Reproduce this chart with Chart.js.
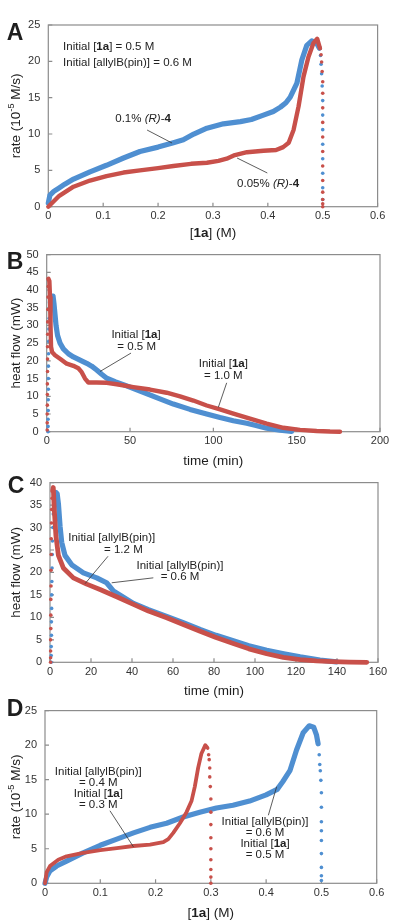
<!DOCTYPE html>
<html>
<head>
<meta charset="utf-8">
<script src="https://cdn.jsdelivr.net/npm/chart.js@4.4.1/dist/chart.umd.min.js"></script>
<style>
  body { margin: 0; background: #fff; width: 400px; height: 920px; position: relative; overflow: hidden; }
  canvas { position: absolute; left: 0; display: block; }
</style>
</head>
<body>
<canvas id="chartA" width="400" height="240" style="top:0"></canvas>
<canvas id="chartB" width="400" height="228" style="top:240px"></canvas>
<canvas id="chartC" width="400" height="236" style="top:468px"></canvas>
<canvas id="chartD" width="400" height="224" style="top:696px"></canvas>
<script>
/* ---- data, [x, y] ---- */
// A: rate vs [1a], two catalyst loadings
var aXTicks = [0, 0.1, 0.2, 0.3, 0.4, 0.5, 0.6];
var aYTicks = [0, 5, 10, 15, 20, 25];
var aBlueLine = [[0,0.5],[0.003,1.6],[0.01,2.1],[0.02,2.6],[0.03,3.1],[0.046,3.8],[0.076,4.8],[0.106,5.7],[0.137,6.7],[0.167,7.6],[0.2,8.2],[0.228,8.8],[0.246,9.2],[0.265,10.0],[0.289,10.8],[0.319,11.4],[0.35,11.7],[0.37,12.0],[0.392,12.6],[0.41,13.1],[0.423,13.7],[0.433,14.3],[0.441,15.1],[0.453,17.0],[0.462,20.2],[0.471,22.2],[0.48,22.8],[0.489,22.5],[0.494,21.8]];
var aBlueDots = [[0.496,20.8],[0.497,19.6],[0.498,18.3],[0.499,16.6],[0.5,14.6],[0.5,12.6],[0.5,10.6],[0.5,8.6],[0.5,6.6],[0.5,4.6],[0.5,2.6],[0.5,1.0]];
var aRedLine = [[0,0],[0.02,1.5],[0.046,2.75],[0.076,3.6],[0.106,4.2],[0.137,4.7],[0.167,5.0],[0.2,5.3],[0.228,5.6],[0.26,5.9],[0.289,6.05],[0.31,6.3],[0.325,6.6],[0.34,7.1],[0.362,7.5],[0.392,7.7],[0.415,7.8],[0.428,8.2],[0.438,8.8],[0.447,10.6],[0.456,13.8],[0.465,17.9],[0.474,20.6],[0.483,22.5],[0.49,23.1],[0.495,21.8]];
var aRedDots = [[0.497,20.9],[0.498,19.9],[0.499,18.6],[0.5,17.2],[0.5,15.6],[0.5,13.6],[0.5,11.6],[0.5,9.6],[0.5,7.6],[0.5,5.6],[0.5,3.6],[0.5,2.0],[0.5,1.0],[0.5,0.4],[0.5,0]];

// B: heat flow vs time, [1a] 0.5 / 1.0 M
var bXTicks = [0, 50, 100, 150, 200];
var bYTicks = [0, 5, 10, 15, 20, 25, 30, 35, 40, 45, 50];
var bBlueRise = [[0.8,0],[0.8,1.5],[0.8,3.5],[0.9,6],[0.9,9],[1,12],[1,15],[1,18.5],[1.1,22],[1.2,25.5],[1.3,29],[1.5,32],[1.8,35]];
var bBlueLine = [[2.2,36.5],[3,38.2],[3.8,38.3],[4.4,36],[5,33],[5.6,30],[6.5,27.2],[8,25],[10,23.4],[13,22],[16,21.1],[20,20.2],[24,19.3],[27,18.5],[30,17.4],[33,16.2],[36,15.1],[41,14.1],[46,13.3],[56,11.5],[66,9.6],[76,7.8],[86,6.3],[96,5.0],[104,4.0],[112,3.1],[120,2.4],[125,1.8],[132,1.0],[140,0.4],[147,0.1]];
var bRedRise = [[0.3,0.5],[0.3,2.5],[0.3,5],[0.4,7.5],[0.4,10.5],[0.4,13.5],[0.5,17],[0.5,20.5],[0.5,24],[0.6,27.5],[0.6,31],[0.7,34.5],[0.8,38],[0.9,41]];
var bRedLine = [[1,43.2],[1.6,42.5],[2,38],[2.3,30],[2.6,24],[3.2,22.5],[5,21.6],[8,20.6],[12,19.2],[16,18.6],[19,17.9],[21,16.8],[23,15],[25,13.9],[30,13.9],[36,13.8],[42,13.4],[52,12.6],[62,11.9],[72,11.0],[80,10.0],[88,8.8],[96,7.4],[104,6.3],[112,5.1],[122,3.7],[132,2.3],[142,1.1],[152,0.5],[162,0.2],[170,0.05],[176,0]];

// C: heat flow vs time, allylB(pin) 0.6 / 1.2 M
var cXTicks = [0, 20, 40, 60, 80, 100, 120, 140, 160];
var cYTicks = [0, 5, 10, 15, 20, 25, 30, 35, 40];
var cBlueRise = [[0.6,0],[0.6,1.5],[0.6,3.5],[0.7,6],[0.7,9],[0.8,12],[0.8,15],[0.9,18],[1,21],[1.1,24],[1.2,27],[1.4,30],[1.6,33],[2,35.5]];
var cBlueLine = [[2.4,37.2],[2.9,37.8],[3.5,37.5],[4.1,35.3],[4.9,30.3],[5.7,26.7],[7.3,23.8],[10.6,21.7],[16.3,19.9],[22.8,18.8],[27.6,17.7],[30.9,15.9],[35.8,14.5],[40.7,13.1],[48,11.7],[56.9,10.2],[65,8.8],[73.2,7.3],[81,6],[89.4,4.8],[97,3.7],[105.7,2.7],[114,1.9],[122,1.2],[131.7,0.5],[139.8,0.1]];
var cRedRise = [[0.3,0],[0.3,1],[0.3,2.5],[0.3,5],[0.4,7.5],[0.4,10.5],[0.4,14],[0.5,17],[0.5,20.5],[0.6,24],[0.6,27.5],[0.7,31],[0.8,34],[1,36.5]];
var cRedLine = [[1.3,38.2],[1.6,38.9],[2.1,33.9],[2.9,28.1],[4.1,23.8],[6.5,21],[11.4,18.8],[17.9,17.4],[24.4,16.2],[32.5,14.6],[40.7,12.9],[48,11.4],[56.9,9.9],[65,8.4],[73.2,6.9],[81,5.5],[89.4,4.2],[97,3.0],[105.7,1.9],[113.8,1.1],[122,0.6],[130,0.3],[138,0.15],[146,0.05],[154.5,0]];

// D: rate vs [1a], two starting concentrations
var dXTicks = [0, 0.1, 0.2, 0.3, 0.4, 0.5, 0.6];
var dYTicks = [0, 5, 10, 15, 20, 25];
var dBlueLine = [[0,0],[0.003,0.9],[0.009,1.8],[0.021,2.5],[0.039,3.2],[0.069,4.4],[0.1,5.5],[0.13,6.4],[0.16,7.3],[0.19,8.1],[0.22,8.7],[0.25,9.6],[0.28,10.3],[0.31,10.9],[0.34,11.3],[0.37,11.9],[0.4,12.8],[0.42,13.6],[0.43,14.7],[0.443,16.3],[0.455,19.3],[0.467,21.8],[0.478,22.8],[0.486,22.6],[0.491,21.5],[0.494,20.2]];
var dBlueDots = [[0.496,18.6],[0.497,17.2],[0.498,16.3],[0.499,14.9],[0.5,13.1],[0.5,11.0],[0.5,8.9],[0.5,7.6],[0.5,6.2],[0.5,4.3],[0.5,2.3],[0.5,1.1],[0.5,0.4]];
var dRedLine = [[0,0],[0.003,1.6],[0.009,2.5],[0.024,3.4],[0.039,3.9],[0.069,4.4],[0.1,4.8],[0.13,5.1],[0.16,5.4],[0.19,5.6],[0.214,5.96],[0.223,6.4],[0.232,7.3],[0.244,8.7],[0.256,10.3],[0.265,11.9],[0.271,14.0],[0.277,16.7],[0.283,18.8],[0.29,20.0],[0.294,19.6]];
var dRedDots = [[0.296,18.6],[0.297,17.9],[0.298,16.7],[0.298,15.4],[0.299,14.0],[0.3,12.2],[0.3,10.3],[0.3,8.5],[0.3,6.6],[0.3,5.0],[0.3,3.4],[0.3,2.0],[0.3,0.9],[0.3,0]];

var BLUE = '#4f8fd1';
var RED = '#c8504a';
var FONT = '"Liberation Sans", Arial, sans-serif';

/* ---- helpers ---- */
function pts(arr) {
  return arr.map(function (p) { return { x: p[0], y: p[1] }; });
}
function band(arr, color, w) {
  return { data: pts(arr), showLine: true, borderColor: color, borderWidth: w, pointRadius: 0,
    borderCapStyle: 'round', borderJoinStyle: 'round', clip: 4 };
}
function dots(arr, color) {
  return { data: pts(arr), showLine: false, pointRadius: 1.8, pointBorderWidth: 0,
    pointBackgroundColor: color, clip: 4 };
}

// "**bold**", "*italic*", "^{sup}"
function richParts(str) {
  var out = [], re = /\*\*(.+?)\*\*|\*(.+?)\*|\^\{(.+?)\}|([^*^]+)/g, m;
  while ((m = re.exec(str))) {
    if (m[1]) out.push({ t: m[1], b: true });
    else if (m[2]) out.push({ t: m[2], i: true });
    else if (m[3]) out.push({ t: m[3], sup: true });
    else out.push({ t: m[4] });
  }
  return out;
}
function drawRich(ctx, str, x, y, size, align) {
  var parts = richParts(str), w = 0;
  parts.forEach(function (p) {
    var s = p.sup ? size * 0.68 : size;
    p.font = (p.i ? 'italic ' : '') + (p.b ? 'bold ' : '') + s + 'px ' + FONT;
    ctx.font = p.font;
    p.w = ctx.measureText(p.t).width;
    w += p.w;
  });
  var cx = align === 'center' ? x - w / 2 : (align === 'right' ? x - w : x);
  var base = y + size * 0.36;
  ctx.textAlign = 'left';
  ctx.textBaseline = 'alphabetic';
  parts.forEach(function (p) {
    ctx.font = p.font;
    ctx.fillText(p.t, cx, p.sup ? base - size * 0.4 : base);
    cx += p.w;
  });
}

var panelDecor = {
  id: 'panelDecor',
  beforeDatasetsDraw: function (chart) {
    var ctx = chart.ctx, a = chart.chartArea;
    var xs = chart.scales.x, ys = chart.scales.y;
    ctx.save();
    ctx.strokeStyle = '#8c8c8c';
    ctx.lineWidth = 1.2;
    ctx.strokeRect(a.left, a.top, a.right - a.left, a.bottom - a.top);
    ctx.beginPath();
    xs.ticks.forEach(function (t) {
      var p = xs.getPixelForValue(t.value);
      ctx.moveTo(p, a.bottom); ctx.lineTo(p, a.bottom - 4);
    });
    ys.ticks.forEach(function (t) {
      var p = ys.getPixelForValue(t.value);
      ctx.moveTo(a.left, p); ctx.lineTo(a.left + 4, p);
    });
    ctx.stroke();
    ctx.restore();
  },
  afterDraw: function (chart, args, o) {
    var ctx = chart.ctx, a = chart.chartArea;
    var xs = chart.scales.x, ys = chart.scales.y;
    ctx.save();
    ctx.fillStyle = '#1e1e1e';
    // panel letter
    ctx.font = 'bold 23px ' + FONT;
    ctx.textAlign = 'center';
    ctx.textBaseline = 'middle';
    ctx.fillText(o.letter, o.letterX, o.letterY);
    // axis titles
    drawRich(ctx, o.xTitle, (a.left + a.right) / 2, o.xTitleY, 13.5, 'center');
    ctx.save();
    ctx.translate(15, (a.top + a.bottom) / 2);
    ctx.rotate(-Math.PI / 2);
    drawRich(ctx, o.yTitle, 0, 0, 13.5, 'center');
    ctx.restore();
    // leader lines
    ctx.strokeStyle = '#333';
    ctx.lineWidth = 0.8;
    ctx.beginPath();
    o.leaders.forEach(function (l) {
      ctx.moveTo(xs.getPixelForValue(l[0]), ys.getPixelForValue(l[1]));
      ctx.lineTo(xs.getPixelForValue(l[2]), ys.getPixelForValue(l[3]));
    });
    ctx.stroke();
    // notes
    ctx.fillStyle = '#222';
    o.notes.forEach(function (n) {
      drawRich(ctx, n.text, xs.getPixelForValue(n.x), ys.getPixelForValue(n.y), 11.5, n.align || 'center');
    });
    ctx.restore();
  }
};

function makePanel(id, p) {
  var canvas = document.getElementById(id);
  var H = canvas.height;
  var tickFont = { family: FONT, size: 11 };
  return new Chart(canvas, {
    type: 'scatter',
    data: { datasets: p.datasets },
    options: {
      responsive: false,
      animation: false,
      events: [],
      layout: { padding: { left: 0, right: 400 - p.area[1], top: p.area[2], bottom: H - p.area[3] - 20 } },
      scales: {
        x: {
          type: 'linear', min: p.xTicks[0], max: p.xTicks[p.xTicks.length - 1],
          afterBuildTicks: function (s) { s.ticks = p.xTicks.map(function (v) { return { value: v }; }); },
          afterFit: function (s) { s.height = 20; },
          grid: { display: false, drawTicks: false }, border: { display: false },
          ticks: { padding: 3, font: tickFont, color: '#333', maxRotation: 0, callback: function (v) { return String(v); } }
        },
        y: {
          type: 'linear', min: p.yTicks[0], max: p.yTicks[p.yTicks.length - 1],
          afterBuildTicks: function (s) { s.ticks = p.yTicks.map(function (v) { return { value: v }; }); },
          afterFit: function (s) { s.width = p.area[0]; },
          grid: { display: false, drawTicks: false }, border: { display: false },
          ticks: { padding: 8, font: tickFont, color: '#333', callback: function (v) { return String(v); } }
        }
      },
      plugins: {
        legend: { display: false },
        tooltip: { enabled: false },
        panelDecor: p.decor
      }
    },
    plugins: [panelDecor]
  });
}

var RATE = 'rate (10^{-5} M/s)';
var CONC = '[**1a**] (M)';
var HEAT = 'heat flow (mW)';
var TIME = 'time (min)';

// area = [left, right, top, bottom] of the plot box inside each canvas
makePanel('chartA', {
  area: [48.3, 377.6, 25, 206.7], xTicks: aXTicks, yTicks: aYTicks,
  datasets: [band(aRedLine, RED, 4.4), dots(aRedDots, RED), band(aBlueLine, BLUE, 5.2), dots(aBlueDots, BLUE)],
  decor: {
    letter: 'A', letterX: 15, letterY: 34, xTitle: CONC, xTitleY: 232, yTitle: RATE,
    leaders: [[0.18, 10.55, 0.2255, 8.76], [0.399, 4.64, 0.344, 6.7]],
    notes: [
      { x: 0.027, y: 22.1, align: 'left', text: 'Initial [**1a**] = 0.5 M' },
      { x: 0.027, y: 19.9, align: 'left', text: 'Initial [allylB(pin)] = 0.6 M' },
      { x: 0.122, y: 12.2, align: 'left', text: '0.1% *(R)*-**4**' },
      { x: 0.344, y: 3.26, align: 'left', text: '0.05% *(R)*-**4**' }
    ]
  }
});

makePanel('chartB', {
  area: [46.7, 380, 10, 191.7], xTicks: bXTicks, yTicks: bYTicks,
  datasets: [dots(bRedRise, RED), band(bRedLine, RED, 4.4), dots(bBlueRise, BLUE), band(bBlueLine, BLUE, 5.2)],
  decor: {
    letter: 'B', letterX: 15, letterY: 22.5, xTitle: TIME, xTitleY: 220, yTitle: HEAT,
    leaders: [[50.6, 22.2, 32, 17.0], [108, 13.8, 103, 6.9]],
    notes: [
      { x: 53.6, y: 27.5, text: 'Initial [**1a**]' },
      { x: 54, y: 24.3, text: '= 0.5 M' },
      { x: 106, y: 19.3, text: 'Initial [**1a**]' },
      { x: 106, y: 16.1, text: '= 1.0 M' }
    ]
  }
});

makePanel('chartC', {
  area: [50, 378, 8.7, 194.3], xTicks: cXTicks, yTicks: cYTicks,
  datasets: [dots(cRedRise, RED), band(cRedLine, RED, 4.8), dots(cBlueRise, BLUE), band(cBlueLine, BLUE, 5.2)],
  decor: {
    letter: 'C', letterX: 16, letterY: 18.5, xTitle: TIME, xTitleY: 222, yTitle: HEAT,
    leaders: [[28.3, 23.6, 17.1, 17.5], [50.4, 18.8, 30.1, 17.7]],
    notes: [
      { x: 30.1, y: 28.0, text: 'Initial [allylB(pin)]' },
      { x: 35.8, y: 25.3, text: '= 1.2 M' },
      { x: 63.4, y: 21.7, text: 'Initial [allylB(pin)]' },
      { x: 63.4, y: 19.2, text: '= 0.6 M' }
    ]
  }
});

makePanel('chartD', {
  area: [45, 376.7, 5.7, 187.3], xTicks: dXTicks, yTicks: dYTicks,
  datasets: [band(dRedLine, RED, 3.8), dots(dRedDots, RED), band(dBlueLine, BLUE, 5.2), dots(dBlueDots, BLUE)],
  decor: {
    letter: 'D', letterX: 15, letterY: 14, xTitle: CONC, xTitleY: 216, yTitle: RATE,
    leaders: [[0.1175, 10.5, 0.16, 5.27], [0.404, 9.85, 0.419, 13.97]],
    notes: [
      { x: 0.0964, y: 16.3, text: 'Initial [allylB(pin)]' },
      { x: 0.0964, y: 14.7, text: '= 0.4 M' },
      { x: 0.0964, y: 13.1, text: 'Initial [**1a**]' },
      { x: 0.0964, y: 11.5, text: '= 0.3 M' },
      { x: 0.398, y: 9.0, text: 'Initial [allylB(pin)]' },
      { x: 0.398, y: 7.4, text: '= 0.6 M' },
      { x: 0.398, y: 5.8, text: 'Initial [**1a**]' },
      { x: 0.398, y: 4.2, text: '= 0.5 M' }
    ]
  }
});
</script>
</body>
</html>
